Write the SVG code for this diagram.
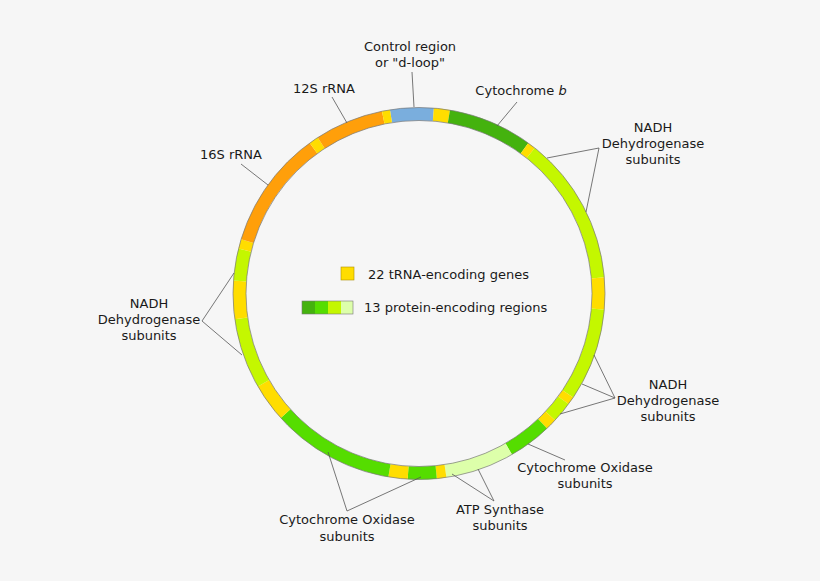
<svg xmlns="http://www.w3.org/2000/svg" width="820" height="581" viewBox="0 0 820 581">
<style>
text{font-family:"DejaVu Sans",sans-serif;font-size:13px;fill:#1a1a1a;text-anchor:middle}
.s{fill:none;stroke-width:13}
.ld{stroke:#555;stroke-width:0.8;fill:none}
.y{stroke:#ffdd00}.b{stroke:#7aaedd}.dg{stroke:#44b20e}.g{stroke:#55dd00}.l{stroke:#c4f700}.lg{stroke:#ddffaa}.o{stroke:#ff9f0a}
</style>
<rect width="820" height="581" fill="#f6f6f6"/>
<g id="ring" transform="rotate(-90 419 293.5)">
<circle class="s b" cx="419" cy="293.5" r="179.5" pathLength="360" stroke-dasharray="13.6 346.4" stroke-dashoffset="-351"/>
<circle class="s y" cx="419" cy="293.5" r="179.5" pathLength="360" stroke-dasharray="5 355" stroke-dashoffset="-4.6"/>
<circle class="s dg" cx="419" cy="293.5" r="179.5" pathLength="360" stroke-dasharray="26.4 333.6" stroke-dashoffset="-9.6"/>
<circle class="s y" cx="419" cy="293.5" r="179.5" pathLength="360" stroke-dasharray="2.5 357.5" stroke-dashoffset="-36"/>
<circle class="s l" cx="419" cy="293.5" r="179.5" pathLength="360" stroke-dasharray="46.5 313.5" stroke-dashoffset="-38.5"/>
<circle class="s y" cx="419" cy="293.5" r="179.5" pathLength="360" stroke-dasharray="10 350" stroke-dashoffset="-85"/>
<circle class="s l" cx="419" cy="293.5" r="179.5" pathLength="360" stroke-dasharray="29 331" stroke-dashoffset="-95"/>
<circle class="s y" cx="419" cy="293.5" r="179.5" pathLength="360" stroke-dasharray="2.5 357.5" stroke-dashoffset="-124"/>
<circle class="s l" cx="419" cy="293.5" r="179.5" pathLength="360" stroke-dasharray="6.5 353.5" stroke-dashoffset="-126.5"/>
<circle class="s y" cx="419" cy="293.5" r="179.5" pathLength="360" stroke-dasharray="3.5 356.5" stroke-dashoffset="-133"/>
<circle class="s g" cx="419" cy="293.5" r="179.5" pathLength="360" stroke-dasharray="13.5 346.5" stroke-dashoffset="-136.5"/>
<circle class="s lg" cx="419" cy="293.5" r="179.5" pathLength="360" stroke-dasharray="21.5 338.5" stroke-dashoffset="-150"/>
<circle class="s y" cx="419" cy="293.5" r="179.5" pathLength="360" stroke-dasharray="3 357" stroke-dashoffset="-171.5"/>
<circle class="s g" cx="419" cy="293.5" r="179.5" pathLength="360" stroke-dasharray="9 351" stroke-dashoffset="-174.5"/>
<circle class="s y" cx="419" cy="293.5" r="179.5" pathLength="360" stroke-dasharray="6 354" stroke-dashoffset="-183.5"/>
<circle class="s g" cx="419" cy="293.5" r="179.5" pathLength="360" stroke-dasharray="38.5 321.5" stroke-dashoffset="-189.5"/>
<circle class="s y" cx="419" cy="293.5" r="179.5" pathLength="360" stroke-dasharray="12 348" stroke-dashoffset="-228"/>
<circle class="s l" cx="419" cy="293.5" r="179.5" pathLength="360" stroke-dasharray="22 338" stroke-dashoffset="-240"/>
<circle class="s y" cx="419" cy="293.5" r="179.5" pathLength="360" stroke-dasharray="12 348" stroke-dashoffset="-262"/>
<circle class="s l" cx="419" cy="293.5" r="179.5" pathLength="360" stroke-dasharray="10 350" stroke-dashoffset="-274"/>
<circle class="s y" cx="419" cy="293.5" r="179.5" pathLength="360" stroke-dasharray="3 357" stroke-dashoffset="-284"/>
<circle class="s o" cx="419" cy="293.5" r="179.5" pathLength="360" stroke-dasharray="37 323" stroke-dashoffset="-287"/>
<circle class="s y" cx="419" cy="293.5" r="179.5" pathLength="360" stroke-dasharray="3 357" stroke-dashoffset="-324"/>
<circle class="s o" cx="419" cy="293.5" r="179.5" pathLength="360" stroke-dasharray="21.5 338.5" stroke-dashoffset="-327"/>
<circle class="s y" cx="419" cy="293.5" r="179.5" pathLength="360" stroke-dasharray="2.5 357.5" stroke-dashoffset="-348.5"/>
<circle cx="419" cy="293.5" r="186" fill="none" stroke="#777" stroke-width="0.7"/>
<circle cx="419" cy="293.5" r="173" fill="none" stroke="#777" stroke-width="0.7"/>
</g>
<g id="connectors">
<path class="ld" d="M412,72 L414,107"/>
<path class="ld" d="M332,97 L347,123"/>
<path class="ld" d="M517,102 L497,126"/>
<path class="ld" d="M547,158 L599,148 L586,212"/>
<path class="ld" d="M241,164 L268,185"/>
<path class="ld" d="M234,273 L202,321 L242,355"/>
<path class="ld" d="M594,355 L615,398 L582,384 M615,398 L560,414"/>
<path class="ld" d="M565,460 L528,444"/>
<path class="ld" d="M478,469 L494,501 L452,474"/>
<path class="ld" d="M328,452 L347,511 L421,477"/>
</g>
<g id="labels">
<text x="410" y="51">Control region</text><text x="410" y="67">or "d-loop"</text>
<text x="324" y="93">12S rRNA</text>
<text x="521" y="95">Cytochrome <tspan font-style="italic">b</tspan></text>
<text x="653" y="132">NADH</text><text x="653" y="148">Dehydrogenase</text><text x="653" y="164">subunits</text>
<text x="231" y="159">16S rRNA</text>
<text x="149" y="308">NADH</text><text x="149" y="324">Dehydrogenase</text><text x="149" y="340">subunits</text>
<text x="668" y="389">NADH</text><text x="668" y="405">Dehydrogenase</text><text x="668" y="421">subunits</text>
<text x="585" y="472">Cytochrome Oxidase</text><text x="585" y="488">subunits</text>
<text x="500" y="514">ATP Synthase</text><text x="500" y="530">subunits</text>
<text x="347" y="524">Cytochrome Oxidase</text><text x="347" y="541">subunits</text>
</g>
<g id="legend">
<rect x="341" y="267" width="13" height="13" fill="#ffdd00" stroke="#b09000" stroke-width="0.6"/>
<text x="368" y="279" style="text-anchor:start">22 tRNA-encoding genes</text>
<rect x="302" y="301" width="13" height="13" fill="#44b20e"/>
<rect x="315" y="301" width="13" height="13" fill="#55dd00"/>
<rect x="328" y="301" width="13" height="13" fill="#c4f700"/>
<rect x="341" y="301" width="12" height="13" fill="#ddffaa"/>
<rect x="302" y="301" width="51" height="13" fill="none" stroke="#777" stroke-width="0.6"/>
<text x="364" y="312" style="text-anchor:start">13 protein-encoding regions</text>
</g>
</svg>
